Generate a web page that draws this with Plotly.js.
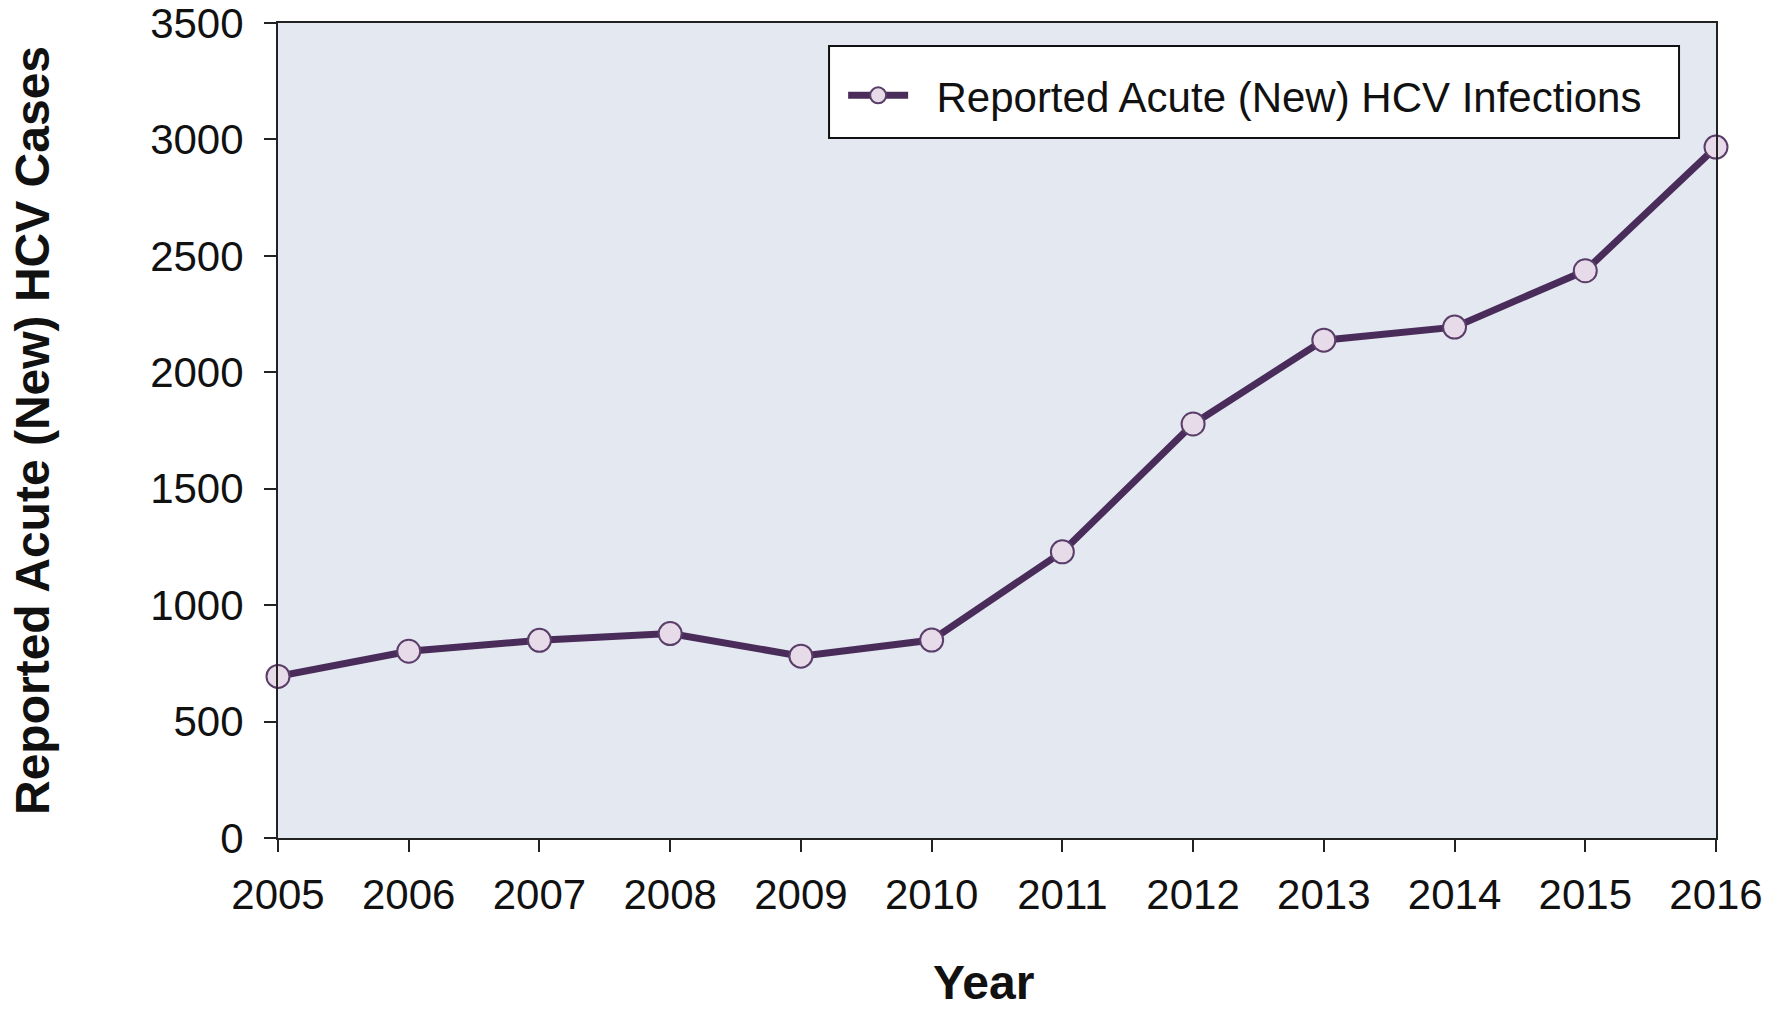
<!DOCTYPE html>
<html>
<head>
<meta charset="utf-8">
<script src="https://cdn.plot.ly/plotly-3.0.1.min.js"></script>
<style>html,body{margin:0;padding:0;background:#fff;}#chart{width:1787px;height:1009px;}</style>
</head>
<body>
<div id="chart"></div>
<script>
const years = [2005, 2006, 2007, 2008, 2009, 2010, 2011, 2012, 2013, 2014, 2015, 2016];
const cases = [694, 802, 849, 878, 781, 850, 1229, 1778, 2138, 2194, 2436, 2967];
const yTicks = [0, 500, 1000, 1500, 2000, 2500, 3000, 3500];
const seriesName = "Reported Acute (New) HCV Infections";
const xTitle = "Year";
const yTitle = "Reported Acute (New) HCV Cases";

const trace = {
  x: years, y: cases, name: '&nbsp;&nbsp;' + seriesName,
  type: 'scatter', mode: 'lines+markers',
  line: {color: '#4a2c5a', width: 7},
  marker: {size: 23, color: '#e7dbe9', line: {color: '#5a3d68', width: 2}},
  cliponaxis: false
};

const layout = {
  width: 1787, height: 1009,
  margin: {l: 278, r: 71, t: 23, b: 171},
  paper_bgcolor: '#ffffff',
  plot_bgcolor: '#e4e8f1',
  font: {family: 'Liberation Sans, Arial, sans-serif', color: '#111111'},
  showlegend: true,
  legend: {
    x: 0.393, y: 0.911, xanchor: 'left', yanchor: 'middle',
    bgcolor: 'rgba(0,0,0,0)', borderwidth: 0,
    font: {size: 42, color: '#111111'},
    itemwidth: 60
  },
  shapes: [{
    type: 'rect', xref: 'paper', yref: 'paper',
    x0: 0.3832, x1: 0.9743, y0: 0.8589, y1: 0.9718,
    fillcolor: '#ffffff', line: {color: '#111111', width: 2}, layer: 'above'
  }],
  xaxis: {
    range: [2005, 2016], tickmode: 'array', tickvals: years, ticktext: years.map(String),
    showgrid: false, zeroline: false,
    showline: true, linecolor: '#222222', linewidth: 2, mirror: true,
    ticks: 'outside', ticklen: 12, tickwidth: 2, tickcolor: '#222222',
    tickfont: {size: 42, color: '#111111'},
    ticklabelstandoff: 7,
    title: {text: '<b>' + xTitle + '</b>&nbsp;&nbsp;', font: {size: 48, color: '#111111'}, standoff: 49}
  },
  yaxis: {
    range: [0, 3500], tickmode: 'array', tickvals: yTicks, ticktext: yTicks.map(String),
    showgrid: false, zeroline: false,
    showline: true, linecolor: '#222222', linewidth: 2, mirror: true,
    ticks: 'outside', ticklen: 12, tickwidth: 2, tickcolor: '#222222',
    tickfont: {size: 42, color: '#111111'},
    ticklabelstandoff: 12,
    ticklabeloverflow: 'allow',
    title: {text: '<b>' + yTitle + '</b>', font: {size: 48, color: '#111111'}, standoff: 85}
  }
};

Plotly.newPlot('chart', [trace], layout, {displayModeBar: false, staticPlot: true});
</script>
</body>
</html>
